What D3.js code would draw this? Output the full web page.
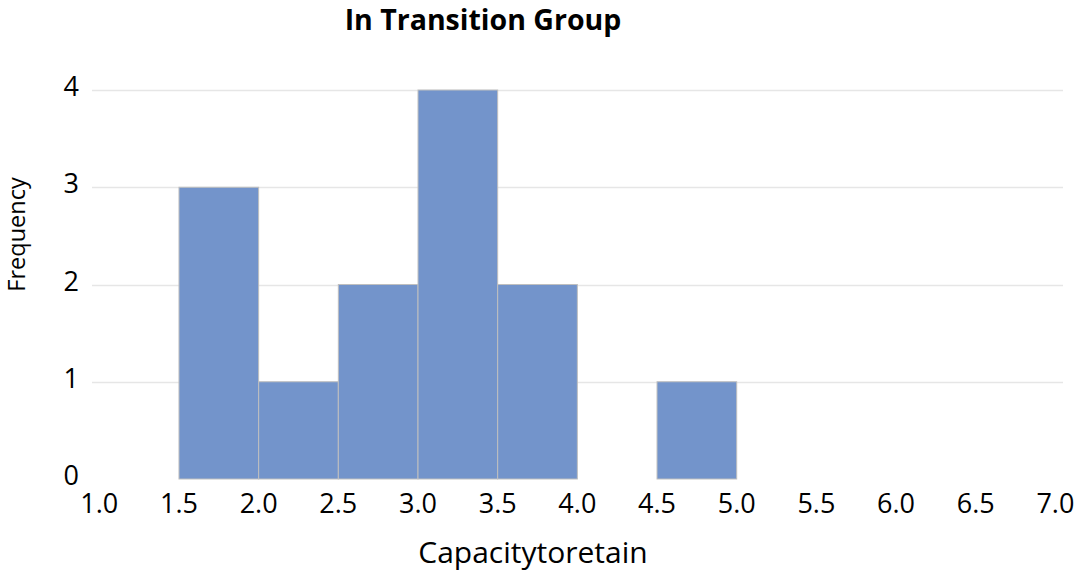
<!DOCTYPE html>
<html><head><meta charset="utf-8">
<script src="https://cdn.jsdelivr.net/npm/d3@7"></script>
<style>body{margin:0;background:#fff}text{font-family:"Open Sans",sans-serif}</style>
</head><body>
<svg id="c" width="1076" height="571"></svg>
<script>
const binStarts = [1.5, 2.0, 2.5, 3.0, 3.5, 4.0, 4.5];
const binEnds   = [2.0, 2.5, 3.0, 3.5, 4.0, 4.5, 5.0];
const frequency = [3, 1, 2, 4, 2, 0, 1];
const xTicks = [1.0,1.5,2.0,2.5,3.0,3.5,4.0,4.5,5.0,5.5,6.0,6.5,7.0];
const yTicks = [0,1,2,3,4];
const title = "In Transition Group";
const xTitle = "Capacitytoretain";
const yTitle = "Frequency";

const svg = d3.select("#c");
const x = d3.scaleLinear().domain([1.0, 7.0]).range([99.3, 1055.4]);
const y = d3.scaleLinear().domain([0, 4]).range([479, 90]);

// gridlines
svg.append("g").selectAll("line").data(yTicks.filter(d=>d>0)).join("line")
  .attr("x1", 92).attr("x2", 1063)
  .attr("y1", d=>Math.round(y(d))+0.5).attr("y2", d=>Math.round(y(d))+0.5)
  .attr("stroke", "#e6e6e6").attr("stroke-width", 1.3);

// bars
const bins = binStarts.map((s,i)=>({s, e: binEnds[i], f: frequency[i]}));
svg.append("g").selectAll("rect").data(bins).join("rect")
  .attr("x", d=>x(d.s)).attr("width", d=>x(d.e)-x(d.s))
  .attr("y", d=>y(d.f)).attr("height", d=>y(0)-y(d.f))
  .attr("fill", "#7394cb").attr("stroke", "#bfbfbf").attr("stroke-width", 1);

// y axis labels
svg.append("g").selectAll("text").data(yTicks).join("text")
  .attr("x", 79).attr("y", d=>y(d)+6)
  .attr("text-anchor", "end").attr("font-size", 27).attr("fill", "#000")
  .text(d=>d);

// x axis labels
svg.append("g").selectAll("text").data(xTicks).join("text")
  .attr("x", d=>x(d)).attr("y", 513)
  .attr("text-anchor", "middle").attr("font-size", 27).attr("fill", "#000")
  .text(d=>d3.format(".1f")(d));

svg.append("text").attr("x", 483).attr("y", 30).attr("text-anchor","middle")
  .attr("font-size", 28.5).attr("font-weight","bold").text(title);
svg.append("text").attr("x", 533).attr("y", 563).attr("text-anchor","middle")
  .attr("font-size", 30).text(xTitle);
svg.append("text").attr("transform","translate(25,234.5) rotate(-90)").attr("text-anchor","middle")
  .attr("font-size", 23.5).text(yTitle);
</script>
</body></html>
